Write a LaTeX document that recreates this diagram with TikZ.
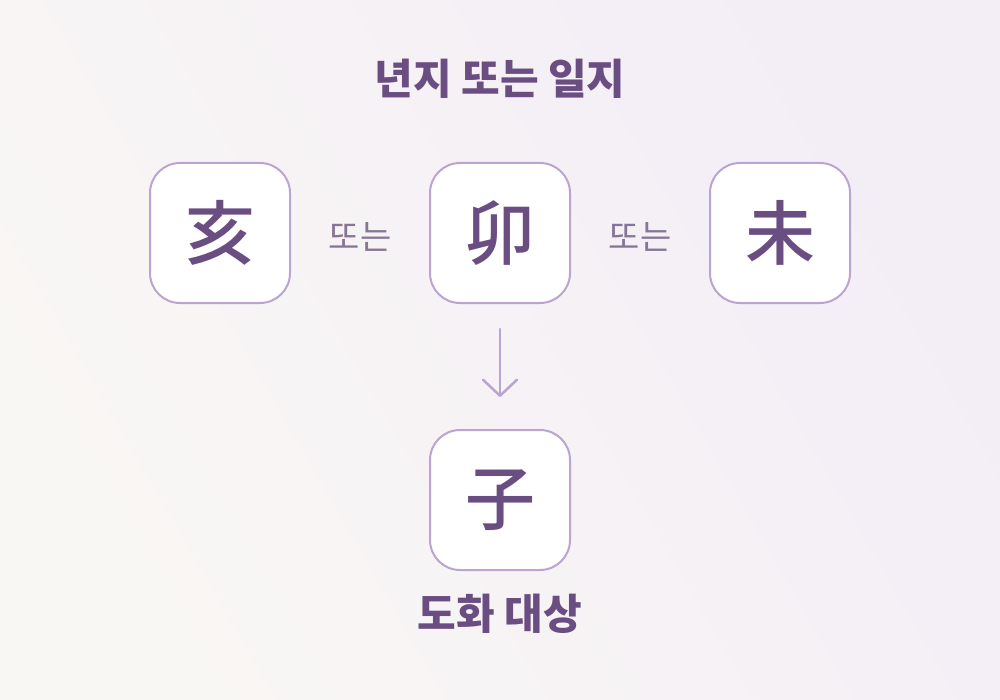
\documentclass[tikz,border=0pt]{standalone}
\usepackage{fontspec}
\newfontfamily\kr{Noto Sans CJK KR}
\newfontfamily\krm{Noto Sans CJK KR Medium}
\usetikzlibrary{arrows.meta}
\definecolor{txt}{HTML}{6A4E82}
\definecolor{ortxt}{HTML}{877596}
\definecolor{bord}{HTML}{BBA4D0}
\definecolor{bgA}{HTML}{F9F7F4}
\definecolor{bgB}{HTML}{F3EDF6}
\tikzset{
  branch/.style={draw=bord, line width=2pt, fill=white, rounded corners=30pt,
    minimum width=140pt, minimum height=140pt, inner sep=0pt,
    text=txt, font=\krm\fontsize{70}{70}\selectfont},
  ortext/.style={text=ortxt, font=\kr\fontsize{34}{34}\selectfont, inner sep=0pt},
  heading/.style={text=txt, font=\kr\bfseries\fontsize{42}{42}\selectfont, inner sep=0pt},
  flow/.style={draw=bord, line width=2.5pt, line cap=round,
    -{Straight Barb[length=16pt,width=34pt,line width=2.5pt,round]}}
}
\begin{document}
\begin{tikzpicture}[x=1pt,y=-1pt]
\fill[left color=bgA, right color=bgB, shading angle=120] (0,0) rectangle (1000,700);
\useasboundingbox (0,0) rectangle (1000,700);
\node[heading] (title) at (500,79) {년지 또는 일지};
\node[branch] (hai) at (220,233) {亥};
\node[branch] (mao) at (500,233) {卯};
\node[branch] (wei) at (780,233) {未};
\node[ortext] (or1) at (360,237) {또는};
\node[ortext] (or2) at (640,237) {또는};
\node[branch] (zi) at (500,500) {子};
\node[heading] (target) at (500,614) {도화 대상};
\draw[flow, shorten <=25pt, shorten >=32pt] (mao.south) -- (zi.north);
\end{tikzpicture}
\end{document}
